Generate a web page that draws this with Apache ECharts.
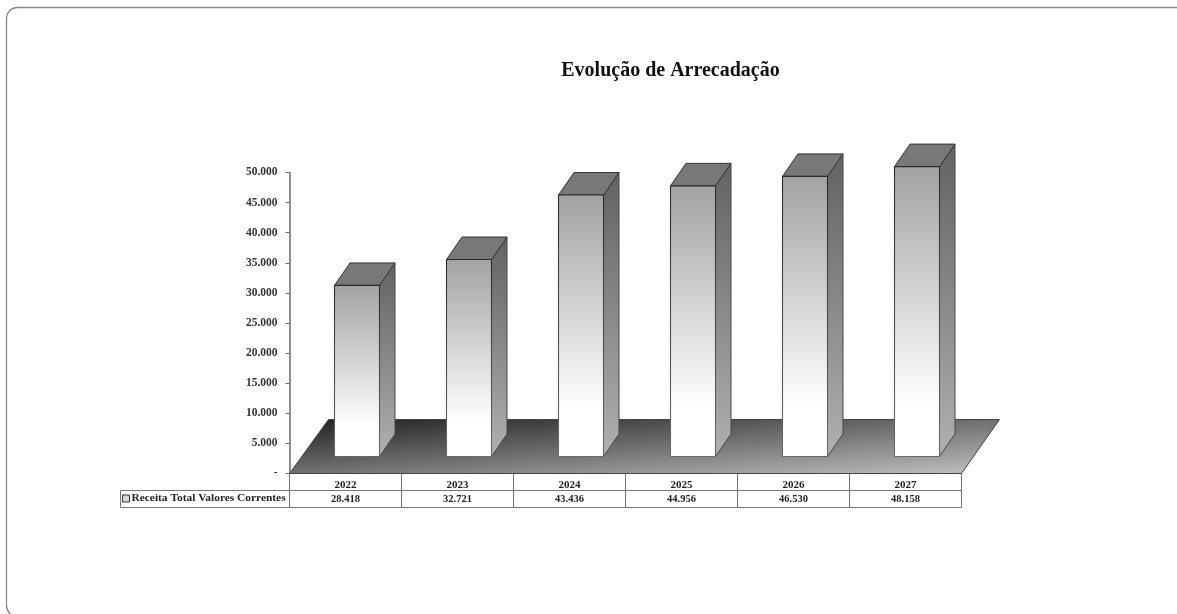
<!DOCTYPE html>
<html>
<head>
<meta charset="utf-8">
<style>html,body{margin:0;padding:0;background:#fff;overflow:hidden}#c{width:1177px;height:614px}</style>
<script src="https://cdn.jsdelivr.net/npm/echarts@6/dist/echarts.min.js"></script>
</head>
<body>
<div id="c"></div>
<script>
var titleText = 'Evolução de Arrecadação';
var seriesName = 'Receita Total Valores Correntes';
var categories = ['2022', '2023', '2024', '2025', '2026', '2027'];
var revenue = [28418, 32721, 43436, 44956, 46530, 48158];

var FONT = '"Liberation Serif", serif';
var fmt = function (v) { return String(v).replace(/\B(?=(\d{3})+$)/g, '.'); };

var chart = echarts.init(document.getElementById('c'), null, { renderer: 'canvas' });

function grad(c0, c1, stop) {
  return new echarts.graphic.LinearGradient(0, 0, 0, 1, [
    { offset: 0, color: c0 }, { offset: stop, color: c1 }, { offset: 1, color: c1 }
  ]);
}

function renderFloor(params, api) {
  var band = api.size([1, 0])[0];
  var p0 = api.coord([0, 0]);
  var left = p0[0] - band / 2;
  var right = left + band * categories.length;
  var y = p0[1];
  return {
    type: 'polygon',
    silent: true,
    shape: { points: [[left, y], [right, y], [right + 38, y - 54], [left + 39, y - 54]] },
    style: {
      fill: new echarts.graphic.LinearGradient(0, 0, 0.0115, 1.99, [
        { offset: 0, color: '#1f1f1f' }, { offset: 1, color: '#c4c4c4' }
      ]),
      stroke: '#444', lineWidth: 1
    }
  };
}

function renderBar(params, api) {
  var band = api.size([1, 0])[0];
  var c = api.coord([api.value(0), api.value(1)]);
  var zero = api.coord([api.value(0), 0]);
  var h = zero[1] - c[1];
  var x0 = Math.round(c[0] - band / 2 + 44) + 0.5;
  var w = 45, dx = 15.5, dy = 22.5;
  var yb = zero[1] - 17;
  var yt = yb - h;
  return {
    type: 'group',
    silent: true,
    children: [
      { type: 'polygon',
        shape: { points: [[x0 + w, yt], [x0 + w + dx, yt - dy], [x0 + w + dx, yb - dy], [x0 + w, yb]] },
        style: { fill: grad('#626262', '#b0b0b0', 1), stroke: '#474747', lineWidth: 1 } },
      { type: 'polygon',
        shape: { points: [[x0, yt], [x0 + dx, yt - dy], [x0 + w + dx, yt - dy], [x0 + w, yt]] },
        style: { fill: '#787878', stroke: '#333', lineWidth: 1 } },
      { type: 'rect',
        shape: { x: x0, y: yt, width: w, height: yb - yt },
        style: { fill: grad('#a2a2a2', '#ffffff', 0.82), stroke: grad('#2a2a2a', '#6a6a6a', 1), lineWidth: 1.1 } }
    ]
  };
}

function renderTable(params, api) {
  var band = api.size([1, 0])[0];
  var c = api.coord([api.value(0), 0]);
  var x0 = c[0] - band / 2, y0 = c[1], rh = 17;
  var kids = [
    { type: 'rect', shape: { x: x0, y: y0, width: band, height: rh }, style: { fill: '#fff', stroke: '#777', lineWidth: 1 } },
    { type: 'rect', shape: { x: x0, y: y0 + rh, width: band, height: rh }, style: { fill: '#fff', stroke: '#777', lineWidth: 1 } },
    { type: 'text', style: { x: x0 + band / 2, y: y0 + rh + rh / 2, text: fmt(api.value(1)), fill: '#222',
        font: 'bold 10.5px ' + FONT, textAlign: 'center', textVerticalAlign: 'middle' } }
  ];
  if (params.dataIndex === 0) {
    kids.push({ type: 'rect', shape: { x: 120.5, y: y0 + rh, width: x0 - 120.5, height: rh }, style: { fill: '#fff', stroke: '#777', lineWidth: 1 } });
  }
  return { type: 'group', silent: true, children: kids };
}

var rows = categories.map(function (c, i) { return [i, revenue[i]]; });

chart.setOption({
  animation: false,
  backgroundColor: '#ffffff',
  graphic: [{
    type: 'rect', z: -10, silent: true,
    shape: { x: 6.5, y: 7.5, width: 1300, height: 609, r: 11 },
    style: { fill: '#fff', stroke: '#8a8a8a', lineWidth: 1.3 }
  }],
  title: {
    text: titleText, left: 665.5, top: 56, textAlign: 'center',
    textStyle: { fontFamily: FONT, fontWeight: 'bold', fontSize: 20, color: '#111' }
  },
  legend: {
    left: 122, top: 493, itemWidth: 7, itemHeight: 7, padding: 0, selectedMode: false, z: 20,
    data: [{ name: seriesName, icon: 'rect',
      itemStyle: { color: '#d8d8d8', borderColor: '#333', borderWidth: 1 } }],
    textStyle: { fontFamily: FONT, fontWeight: 'bold', fontSize: 11.4, color: '#222', padding: [0, 0, 0, -3] }
  },
  grid: { left: 289.5, top: 172.5, width: 672, height: 301, containLabel: false },
  xAxis: {
    type: 'category', data: categories, z: 10,
    axisLine: { show: false }, axisTick: { show: false }, splitLine: { show: false },
    axisLabel: { margin: 6, color: '#222', fontFamily: FONT, fontWeight: 'bold', fontSize: 11 }
  },
  yAxis: {
    type: 'value', min: 0, max: 50000, interval: 5000,
    splitLine: { show: false },
    axisLine: { show: true, lineStyle: { color: '#6a6a6a', width: 1.5 } },
    axisTick: { show: true, length: 4, lineStyle: { color: '#6a6a6a' } },
    axisLabel: { margin: 12, color: '#333', fontFamily: FONT, fontWeight: 'bold', fontSize: 11.5,
      padding: [2, 0, 0, 0],
      formatter: function (v) { return v === 0 ? '-' : fmt(v); } }
  },
  series: [
    { type: 'custom', name: 'Tabela', data: rows, renderItem: renderTable, clip: false, z: 1,
      encode: { x: 0, y: 1 } },
    { type: 'custom', name: 'Piso', data: [[0, 0]], renderItem: renderFloor, clip: false, z: 2,
      encode: { x: 0, y: 1 } },
    { type: 'custom', name: seriesName, data: rows, renderItem: renderBar, clip: false, z: 3,
      encode: { x: 0, y: 1 } }
  ]
});
</script>
</body>
</html>
